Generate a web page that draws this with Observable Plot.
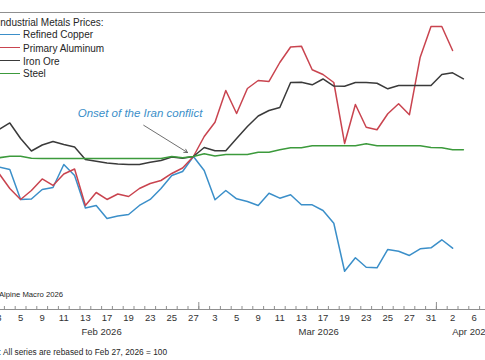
<!DOCTYPE html>
<html><head><meta charset="utf-8">
<script src="https://cdn.jsdelivr.net/npm/d3@7"></script>
<script src="https://cdn.jsdelivr.net/npm/@observablehq/plot@0.6"></script>
<style>
body{margin:0;background:#fff;font-family:"Liberation Sans",Arial,sans-serif;}
#wrap{position:relative;width:485px;height:360px;overflow:hidden;background:#fff;}
.abs{position:absolute;white-space:nowrap;color:#262626;}
.sw{display:inline-block;width:22px;height:0;border-top:1.5px solid;vertical-align:middle;margin-right:3px;position:relative;top:-1px;}
</style></head><body><div id="wrap"></div>
<script>
// Trading days (index 0 = Feb 3, 2026)
const days = ["2026-02-03","2026-02-04","2026-02-05","2026-02-06","2026-02-09","2026-02-10","2026-02-11","2026-02-12","2026-02-13","2026-02-16","2026-02-17","2026-02-18","2026-02-19","2026-02-20","2026-02-23","2026-02-24","2026-02-25","2026-02-26","2026-02-27",
"2026-03-02","2026-03-03","2026-03-04","2026-03-05","2026-03-06","2026-03-09","2026-03-10","2026-03-11","2026-03-12","2026-03-13","2026-03-16","2026-03-17","2026-03-18","2026-03-19","2026-03-20","2026-03-23","2026-03-24","2026-03-25","2026-03-26","2026-03-27","2026-03-30","2026-03-31",
"2026-04-01","2026-04-02","2026-04-03","2026-04-06"];
const tickLabels = ["3","5","9","11","13","17","19","23","25","27","3","5","9","11","13","17","19","23","25","27","31","2","6"];
const monthLabels = ["Feb 2026","Mar 2026","Apr 2026"];
const monthCenters = [9.5, 29.6, 43.75];
const monthBounds = [18.5, 40.5];

const seriesNames = ["Refined Copper","Primary Aluminum","Iron Ore","Steel"];
const seriesColors = ["#3b8fc9","#c9444f","#3a3a3a","#3c9a3c"];

const copper = [98.69,98.38,94.63,94.69,95.88,96.13,99.0,97.63,93.56,93.88,
92.25,92.56,92.75,93.88,94.63,96.0,97.63,98.13,100,98.25,
94.59,95.75,94.71,94.38,93.88,95.41,94.79,95.21,93.96,93.96,
93.25,91.66,85.66,87.34,86.16,86.09,88.38,88.16,87.63,88.46,
88.59,89.59,88.54];
const aluminum = [97.88,96.0,94.63,95.75,97.19,96.38,97.81,98.44,93.88,95.5,
94.63,95.31,95.0,96.0,96.63,97.0,97.88,98.56,100,102.5,
104.29,108.25,105.38,108.5,109.5,109.38,111.75,113.69,113.79,110.84,
110.25,109.25,101.63,106.5,103.66,103.34,105.34,106.59,105.21,112.41,
116.25,116.25,113.25];
const ironOre = [103.38,104.19,102.25,100.69,101.44,101.88,101.5,101.19,99.63,99.4,
99.19,99.06,99.0,99.0,99.28,99.5,99.94,99.79,100,101.13,
100.71,100.71,102.25,103.75,105.06,105.75,106.13,109.25,109.29,108.96,
109.69,108.81,108.79,109.25,109.25,109.16,108.46,108.88,108.88,108.88,
108.88,110.25,110.46,109.71];
const steel = [99.84,100.04,100.04,99.78,99.75,99.75,99.75,99.75,99.75,99.75,
99.75,99.75,99.75,99.75,99.75,99.75,100,99.84,100,100.34,
100.06,100.25,100.25,100.25,100.54,100.54,100.84,101.09,101.09,101.34,
101.34,101.34,101.34,101.34,101.59,101.34,101.34,101.34,101.34,101.34,
101.13,101.09,100.84,100.84];

const annotation = {text:"Onset of the Iran conflict", x:13.06, y:105.4};
const arrowSpec = {x1:13.4, y1:103.9, x2:17.45, y2:100.5};

const yMin = 80.875, yMax = 118;

const allValues = [copper, aluminum, ironOre, steel];
const table = seriesNames.flatMap((name, k) => allValues[k].map((v, i) => ({series:name, i, day:days[i], value:v})));
const tickIdx = tickLabels.map((_, j) => j * 2);
const minorTicks = d3.range(-0.5, days.length + 2, 1);

const chart = Plot.plot({
  width: 485, height: 360,
  marginTop: 12, marginBottom: 51, marginLeft: 0, marginRight: 0,
  x: {type: "linear", domain: [0, days.length - 1], range: [-1.5, 473.7], axis: null},
  y: {domain: [yMin, yMax], axis: null},
  color: {domain: seriesNames, range: seriesColors},
  style: {fontFamily: "'Liberation Sans', Arial, sans-serif", background: "#fff", overflow: "hidden"},
  marks: [
    Plot.ruleY([yMax], {stroke: "#8f8f8f", strokeWidth: 1.2}),
    Plot.ruleY([yMin], {stroke: "#8f8f8f", strokeWidth: 1.2}),
    Plot.tickX(minorTicks, {x: d => d, stroke: "#8f8f8f", insetTop: 294}),
    Plot.tickX(monthBounds, {x: d => d, stroke: "#8f8f8f", insetTop: 290}),
    Plot.line(table, {x: "i", y: "value", z: "series", stroke: "series", strokeWidth: 1.5, clip: true}),
    Plot.arrow([arrowSpec], {x1: "x1", y1: "y1", x2: "x2", y2: "y2", stroke: "#4a4a4a", strokeWidth: 0.8, headLength: 7}),
    Plot.text([annotation], {x: "x", y: "y", text: "text", fill: "#3b8fc9", fontStyle: "italic", fontSize: 11.5}),
    Plot.text(tickIdx, {x: d => d, text: (d, j) => tickLabels[j], frameAnchor: "bottom", dy: 11, fontSize: 9.5, fill: "#333"}),
    Plot.text(monthLabels, {x: (d, j) => monthCenters[j], text: d => d, frameAnchor: "bottom", dy: 25, fontSize: 9.5, fill: "#333"})
  ]
});
const wrap = document.getElementById("wrap");
wrap.appendChild(chart);

function addDiv(html, css) {
  const el = document.createElement("div");
  el.className = "abs";
  el.innerHTML = html;
  Object.assign(el.style, css);
  wrap.appendChild(el);
  return el;
}
addDiv("Industrial Metals Prices:", {left: "-2.5px", top: "17px", fontSize: "10px", lineHeight: "12px"});
const rowY = [35, 48.5, 61.5, 74];
seriesNames.forEach((name, k) => {
  addDiv(`<span class="sw" style="border-color:${seriesColors[k]}"></span>${name}`,
    {left: "-2px", top: (rowY[k] - 6) + "px", fontSize: "10px", lineHeight: "12px"});
});
addDiv("Source: Alpine Macro 2026", {right: "422px", top: "290px", fontSize: "7.7px", lineHeight: "10px"});
addDiv("Note: All series are rebased to Feb 27, 2026 = 100", {right: "318px", top: "347px", fontSize: "8.3px", lineHeight: "10px"});
</script>
</body></html>
